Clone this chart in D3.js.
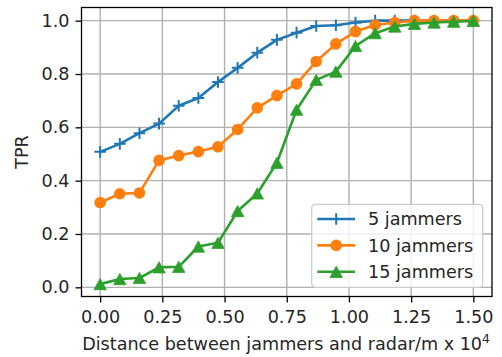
<!DOCTYPE html>
<html>
<head>
<meta charset="utf-8">
<script src="https://cdn.jsdelivr.net/npm/d3@7"></script>
<style>
  body { margin: 0; background: #fff; }
  svg { display: block; font-family: "DejaVu Sans", sans-serif; }
</style>
</head>
<body>
<script>
'use strict';

// distance in units of 10^4 m, 20 equally spaced samples
const distances = d3.range(20).map(i => i * 1.5 / 19);

const tpr5  = [0.508, 0.538, 0.578, 0.614, 0.681, 0.710, 0.770, 0.823, 0.880, 0.928,
               0.955, 0.980, 0.983, 0.993, 1.0, 1.0, 1.0, 1.0, 1.0, 1.0];
const tpr10 = [0.318, 0.351, 0.354, 0.476, 0.494, 0.509, 0.527, 0.592, 0.673, 0.719,
               0.763, 0.847, 0.913, 0.959, 0.984, 0.993, 1.0, 1.0, 1.0, 1.0];
const tpr15 = [0.012, 0.031, 0.035, 0.075, 0.077, 0.153, 0.167, 0.286, 0.352, 0.467,
               0.666, 0.778, 0.809, 0.905, 0.953, 0.978, 0.988, 0.993, 0.996, 0.999];

const seriesNames = ['5 jammers', '10 jammers', '15 jammers'];
const seriesColors = ['#1f77b4', '#ff7f0e', '#2ca02c'];
const seriesMarkers = ['plus', 'circle', 'triangle'];

const xTicks = [0, 0.25, 0.5, 0.75, 1.0, 1.25, 1.5];
const yTicks = [0, 0.2, 0.4, 0.6, 0.8, 1.0];

const width = 502, height = 357;
const margin = {left: 81.5, right: 10, top: 7.5, bottom: 60.5};
const fontSize = 17.6;

const svg = d3.select('body').append('svg')
  .attr('width', width)
  .attr('height', height);

const x = d3.scaleLinear().domain([-0.075, 1.575]).range([margin.left, width - margin.right]);
const y = d3.scaleLinear().domain([-0.0344, 1.0494]).range([height - margin.bottom, margin.top]);

// grid
svg.append('g').selectAll('line').data(xTicks).join('line')
  .attr('x1', d => x(d)).attr('x2', d => x(d))
  .attr('y1', y.range()[0]).attr('y2', y.range()[1])
  .attr('stroke', '#b0b0b0').attr('stroke-width', 1.4);
svg.append('g').selectAll('line').data(yTicks).join('line')
  .attr('y1', d => y(d)).attr('y2', d => y(d))
  .attr('x1', x.range()[0]).attr('x2', x.range()[1])
  .attr('stroke', '#b0b0b0').attr('stroke-width', 1.4);

// axes
const xAxis = svg.append('g')
  .attr('transform', `translate(0,${y.range()[0]})`)
  .call(d3.axisBottom(x).tickValues(xTicks).tickFormat(d3.format('.2f')).tickSize(6).tickPadding(8));
const yAxis = svg.append('g')
  .attr('transform', `translate(${x.range()[0]},0)`)
  .call(d3.axisLeft(y).tickValues(yTicks).tickFormat(d3.format('.1f')).tickSize(6).tickPadding(6));
[xAxis, yAxis].forEach(a => {
  a.select('.domain').remove();
  a.selectAll('.tick line').attr('stroke', '#000').attr('stroke-width', 1.3);
  a.selectAll('.tick text').attr('fill', '#262626').attr('font-size', fontSize)
    .attr('font-family', '"DejaVu Sans", sans-serif');
});

// series
const series = [tpr5, tpr10, tpr15];
const line = d3.line().x((d, i) => x(distances[i])).y(d => y(d));

function drawMarker(g, kind, color) {
  if (kind === 'plus') {
    g.append('path').attr('d', 'M-5.8,0H5.8M0,-5.8V5.8')
      .attr('stroke', color).attr('stroke-width', 2).attr('fill', 'none');
  } else if (kind === 'circle') {
    g.append('circle').attr('r', 5.8).attr('fill', color);
  } else {
    g.append('path').attr('d', 'M0,-5.6L6.2,5.6L-6.2,5.6Z')
      .attr('fill', color).attr('stroke', color).attr('stroke-width', 0.8);
  }
}

series.forEach((vals, k) => {
  svg.append('path').datum(vals)
    .attr('d', line)
    .attr('fill', 'none')
    .attr('stroke', seriesColors[k])
    .attr('stroke-width', 2.6)
    .attr('stroke-linejoin', 'round');
  svg.append('g').selectAll('g').data(vals).join('g')
    .attr('transform', (d, i) => `translate(${x(distances[i])},${y(d)})`)
    .each(function() { drawMarker(d3.select(this), seriesMarkers[k], seriesColors[k]); });
});

// frame
svg.append('rect')
  .attr('x', x.range()[0]).attr('y', y.range()[1])
  .attr('width', x.range()[1] - x.range()[0])
  .attr('height', y.range()[0] - y.range()[1])
  .attr('fill', 'none').attr('stroke', '#000').attr('stroke-width', 1.3);

// legend
const legend = svg.append('g').attr('transform', 'translate(311.7,204.3)');
legend.append('rect')
  .attr('width', 171).attr('height', 83).attr('rx', 3.5)
  .attr('fill', '#fff').attr('fill-opacity', 0.8)
  .attr('stroke', '#cccccc').attr('stroke-width', 1.2);
seriesNames.forEach((name, k) => {
  const row = legend.append('g').attr('transform', `translate(0,${14.7 + k * 26.4})`);
  row.append('line').attr('x1', 5.6).attr('x2', 43.3)
    .attr('stroke', seriesColors[k]).attr('stroke-width', 2.6);
  const m = row.append('g').attr('transform', 'translate(24.5,0)');
  drawMarker(m, seriesMarkers[k], seriesColors[k]);
  row.append('text').attr('x', 56.3).attr('y', 6.4)
    .attr('font-size', fontSize).attr('fill', '#262626').text(name);
});

// axis labels
svg.append('text')
  .attr('transform', `translate(28,${(y.range()[0] + y.range()[1]) / 2}) rotate(-90)`)
  .attr('text-anchor', 'middle').attr('font-size', fontSize).attr('fill', '#262626')
  .text('TPR');

const xl = svg.append('text')
  .attr('x', 286).attr('y', 350.3)
  .attr('text-anchor', 'middle')
  .attr('font-size', fontSize).attr('fill', '#262626');
xl.append('tspan').text('Distance between jammers and radar/m x 10');
xl.append('tspan').attr('dy', -7).attr('font-size', 12.3).text('4');
</script>
</body>
</html>
